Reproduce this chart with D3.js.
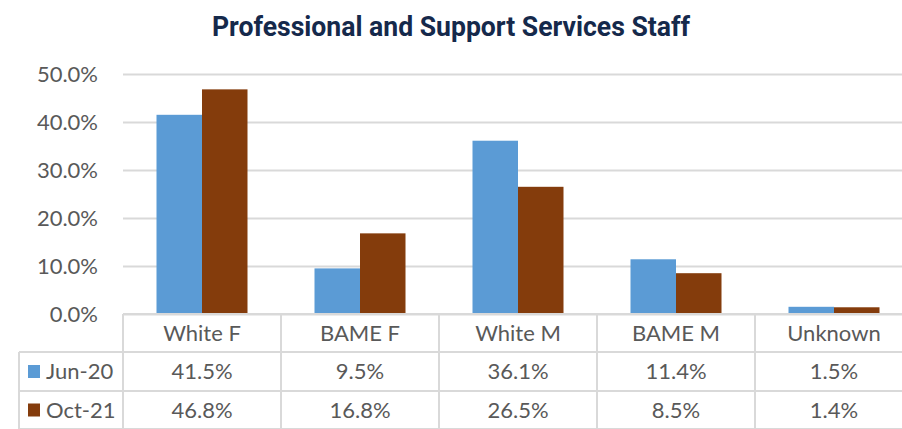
<!DOCTYPE html>
<html>
<head>
<meta charset="utf-8">
<script src="https://cdn.jsdelivr.net/npm/d3@7"></script>
<style>
  html, body { margin: 0; padding: 0; background: #fff; }
  svg { display: block; }
</style>
</head>
<body>
<div id="chart"></div>
<script>
const categories = ['White F', 'BAME F', 'White M', 'BAME M', 'Unknown'];
const seriesNames = ['Jun-20', 'Oct-21'];
const jun20 = [41.5, 9.5, 36.1, 11.4, 1.5];
const oct21 = [46.8, 16.8, 26.5, 8.5, 1.4];
const yTicks = [0, 10, 20, 30, 40, 50];
const colors = ['#5b9bd5', '#843c0c'];
const seriesValues = [jun20, oct21];

const W = 902, H = 429;
const plotLeft = 123, plotRight = 913, plotTop = 74, plotBottom = 314;
const rowH = [38, 39, 38];
const tableLeft = 19;
const grid = '#d9d9d9', textCol = '#595959';

const svg = d3.select('#chart').append('svg')
  .attr('width', W).attr('height', H)
  .style('font-family', 'Lato, "Open Sans", sans-serif');

svg.append('text')
  .attr('x', W / 2).attr('y', 36)
  .attr('text-anchor', 'middle')
  .attr('fill', '#15294b')
  .attr('font-family', 'Roboto, sans-serif')
  .attr('font-weight', 700).attr('font-size', 27)
  .attr('textLength', 478).attr('lengthAdjust', 'spacingAndGlyphs')
  .text('Professional and Support Services Staff');

const y = d3.scaleLinear().domain([0, 50]).range([plotBottom, plotTop]);
const x0 = d3.scaleBand().domain(categories).range([plotLeft, plotRight]);
const x1 = d3.scaleBand().domain(seriesNames).range([33.5, x0.bandwidth() - 33.5]);

// gridlines + y labels
const yAxis = svg.append('g')
  .attr('transform', `translate(${plotLeft},0)`)
  .call(d3.axisLeft(y).tickValues(yTicks).tickSize(-(plotRight - plotLeft)).tickPadding(25)
    .tickFormat(d => d.toFixed(1) + '%'));
yAxis.select('.domain').remove();
yAxis.selectAll('line').attr('stroke', grid).attr('stroke-width', 2);
yAxis.selectAll('text').attr('fill', textCol).attr('font-size', 22)
  .attr('font-family', 'Lato, sans-serif');

// bars
const groups = svg.append('g').selectAll('g')
  .data(categories).join('g')
  .attr('transform', d => `translate(${x0(d)},0)`);
groups.selectAll('rect')
  .data((d, i) => seriesNames.map((s, j) => ({ s, v: seriesValues[j][i], c: colors[j] })))
  .join('rect')
  .attr('x', d => x1(d.s))
  .attr('width', x1.bandwidth())
  .attr('y', d => y(d.v))
  .attr('height', d => y(0) - y(d.v))
  .attr('fill', d => d.c);

// data table
const rowY = [plotBottom, plotBottom + rowH[0], plotBottom + rowH[0] + rowH[1], plotBottom + rowH[0] + rowH[1] + rowH[2]];
const tbl = svg.append('g');
tbl.append('line').attr('x1', plotLeft).attr('x2', W + 20).attr('y1', rowY[0]).attr('y2', rowY[0]);
[1, 2, 3].forEach(r => tbl.append('line').attr('x1', tableLeft).attr('x2', W + 20).attr('y1', rowY[r]).attr('y2', rowY[r]));
tbl.append('line').attr('x1', tableLeft).attr('x2', tableLeft).attr('y1', rowY[1]).attr('y2', rowY[3]);
categories.concat(['_end']).forEach((c, i) => {
  const xv = plotLeft + i * x0.step();
  tbl.append('line').attr('x1', xv).attr('x2', xv).attr('y1', rowY[0]).attr('y2', rowY[3]);
});
tbl.selectAll('line').attr('stroke', grid).attr('stroke-width', 2);

const tfont = 22;
categories.forEach((c, i) => {
  const cx = x0(c) + x0.bandwidth() / 2;
  tbl.append('text').attr('x', cx).attr('y', (rowY[0] + rowY[1]) / 2).attr('dy', '0.35em')
    .attr('text-anchor', 'middle').attr('fill', textCol).attr('font-size', tfont).text(c);
  seriesValues.forEach((vals, j) => {
    tbl.append('text').attr('x', cx).attr('y', (rowY[j + 1] + rowY[j + 2]) / 2).attr('dy', '0.35em')
      .attr('text-anchor', 'middle').attr('fill', textCol).attr('font-size', tfont)
      .text(vals[i].toFixed(1) + '%');
  });
});
seriesNames.forEach((s, j) => {
  const cy = (rowY[j + 1] + rowY[j + 2]) / 2;
  tbl.append('rect').attr('x', 28).attr('y', cy - 6.5).attr('width', 12).attr('height', 13).attr('fill', colors[j]);
  tbl.append('text').attr('x', 46).attr('y', cy).attr('dy', '0.35em')
    .attr('fill', textCol).attr('font-size', tfont).text(s);
});
</script>
</body>
</html>
